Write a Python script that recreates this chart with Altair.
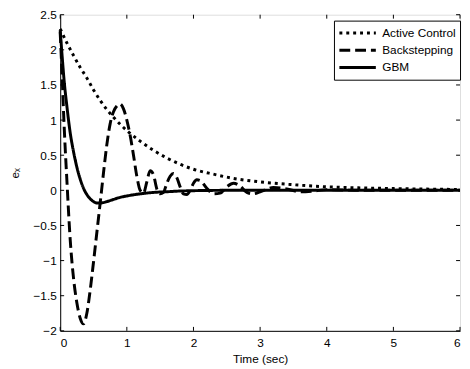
import altair as alt
import pandas as pd

# ---- data ----
ac_t = [0, 0.1, 0.2, 0.3, 0.4, 0.5, 0.6, 0.7, 0.8, 0.9, 1.0, 1.2, 1.4, 1.6, 1.8,
        2.0, 2.3, 2.6, 3.0, 3.5, 4.0, 4.5, 5.0, 5.5, 6.0]
ac_v = [2.3, 2.1, 1.92, 1.75, 1.6, 1.43, 1.28, 1.15, 1.04, 0.94, 0.85, 0.7, 0.57,
        0.46, 0.37, 0.3, 0.23, 0.17, 0.12, 0.08, 0.05, 0.035, 0.025, 0.018, 0.012]

bs_t = [0, 0.03, 0.06, 0.1, 0.15, 0.2, 0.25, 0.3, 0.35, 0.4, 0.45, 0.5, 0.55, 0.6,
        0.65, 0.7, 0.75, 0.8, 0.85, 0.9, 0.95, 1.0, 1.05, 1.1, 1.15, 1.2, 1.25, 1.3,
        1.35, 1.4, 1.45, 1.5, 1.55, 1.6, 1.65, 1.7, 1.75, 1.8, 1.85, 1.9, 1.95, 2.0,
        2.05, 2.1, 2.2, 2.3, 2.4, 2.5, 2.6, 2.7, 2.8, 2.9, 3.0, 3.2, 3.4, 3.6, 3.8,
        4.0, 4.5, 5.0, 5.5, 6.0]
bs_v = [2.25, 1.6, 0.9, 0.15, -0.7, -1.25, -1.6, -1.82, -1.9, -1.75, -1.42, -1.02,
        -0.6, -0.18, 0.25, 0.65, 0.95, 1.12, 1.2, 1.23, 1.16, 1.0, 0.78, 0.5, 0.2,
        0.0, -0.04, 0.12, 0.28, 0.22, 0.02, -0.05, -0.03, 0.1, 0.2, 0.24, 0.18, 0.05,
        -0.05, -0.06, 0.0, 0.1, 0.15, 0.14, 0.03, -0.05, -0.04, 0.05, 0.1, 0.06,
        -0.03, -0.05, -0.02, 0.04, 0.02, -0.02, -0.01, 0.01, 0.0, 0.0, 0.0, 0.0]

gbm_t = [0, 0.03, 0.06, 0.1, 0.15, 0.2, 0.25, 0.3, 0.35, 0.4, 0.45, 0.5, 0.55, 0.6,
         0.7, 0.8, 0.9, 1.0, 1.2, 1.4, 1.6, 1.8, 2.0, 2.5, 3.0, 4.0, 5.0, 6.0]
gbm_v = [2.28, 1.9, 1.55, 1.2, 0.82, 0.55, 0.33, 0.16, 0.03, -0.06, -0.12, -0.16,
         -0.18, -0.18, -0.16, -0.13, -0.1, -0.08, -0.05, -0.03, -0.02, -0.01,
         -0.005, 0.0, 0.0, 0.0, 0.0, 0.0]

series = ["Active Control", "Backstepping", "GBM"]
x_ticks = [0, 1, 2, 3, 4, 5, 6]
y_ticks = [-2, -1.5, -1, -0.5, 0, 0.5, 1, 1.5, 2, 2.5]

W, H = 406, 321
FONT = "Liberation Sans"

rows = []
for name, ts, vs in [(series[0], ac_t, ac_v), (series[1], bs_t, bs_v), (series[2], gbm_t, gbm_v)]:
    for t, v in zip(ts, vs):
        rows.append({"t": t, "v": v, "series": name})
df = pd.DataFrame(rows)

xs = alt.Scale(domain=[0, 6], nice=False, zero=False)
ys = alt.Scale(domain=[-2, 2.5], nice=False, zero=False)

ax_x = alt.Axis(
    title="Time (sec)", values=x_ticks, ticks=False, tickSize=0, grid=False,
    labelPadding=7, titlePadding=5, domainColor="black", labelColor="black",
    titleColor="black", labelFont=FONT, titleFont=FONT, labelFontSize=12,
    titleFontSize=12, titleFontWeight="normal")
ax_y = alt.Axis(
    title="eₓ", values=y_ticks, ticks=False, tickSize=0, grid=False,
    labelPadding=4, titlePadding=12, domainColor="black", labelColor="black",
    titleColor="black", labelFont=FONT, titleFont=FONT, labelFontSize=12,
    titleFontSize=12, titleFontWeight="normal", format="~g")

lines = alt.Chart(df).mark_line(
    color="black", strokeWidth=3, interpolate="monotone", strokeCap="butt"
).encode(
    x=alt.X("t:Q", scale=xs, axis=ax_x),
    y=alt.Y("v:Q", scale=ys, axis=ax_y),
    strokeDash=alt.StrokeDash("series:N", scale=alt.Scale(
        domain=series, range=[[3, 4], [11, 5], [1, 0]]),
        sort=series,
        legend=alt.Legend(
            orient="none", legendX=278, legendY=6, title=None,
            strokeColor="black", fillColor="white", padding=4,
            symbolType="stroke", symbolSize=1369, symbolStrokeWidth=3,
            symbolStrokeColor="black", labelFont=FONT, labelFontSize=12,
            labelColor="black", labelOffset=5, rowPadding=0.5, clipHeight=17)),
    detail="series:N",
)

xt = pd.DataFrame({"t": x_ticks})
yt = pd.DataFrame({"v": y_ticks})
tick_x_bottom = alt.Chart(xt).mark_rule(color="black", strokeWidth=1).encode(
    x=alt.X("t:Q", scale=xs, axis=ax_x), y=alt.value(H), y2=alt.value(H - 4))
tick_x_top = alt.Chart(xt).mark_rule(color="black", strokeWidth=1).encode(
    x=alt.X("t:Q", scale=xs, axis=ax_x), y=alt.value(0), y2=alt.value(4))
tick_y_left = alt.Chart(yt).mark_rule(color="black", strokeWidth=1).encode(
    y=alt.Y("v:Q", scale=ys, axis=ax_y), x=alt.value(0), x2=alt.value(4))
tick_y_right = alt.Chart(yt).mark_rule(color="black", strokeWidth=1).encode(
    y=alt.Y("v:Q", scale=ys, axis=ax_y), x=alt.value(W - 4), x2=alt.value(W))

chart = alt.layer(
    lines, tick_x_bottom, tick_x_top, tick_y_left, tick_y_right
).properties(
    width=W, height=H,
    autosize=alt.AutoSizeParams(type="none"),
    padding={"left": 53, "top": 4, "right": 2, "bottom": 40},
).configure_view(stroke="black", strokeWidth=1).configure_legend(
    labelFontSize=12, labelFont=FONT
).configure(background="white")

chart.save("out.html", embed_options={"renderer": "svg", "actions": False})
